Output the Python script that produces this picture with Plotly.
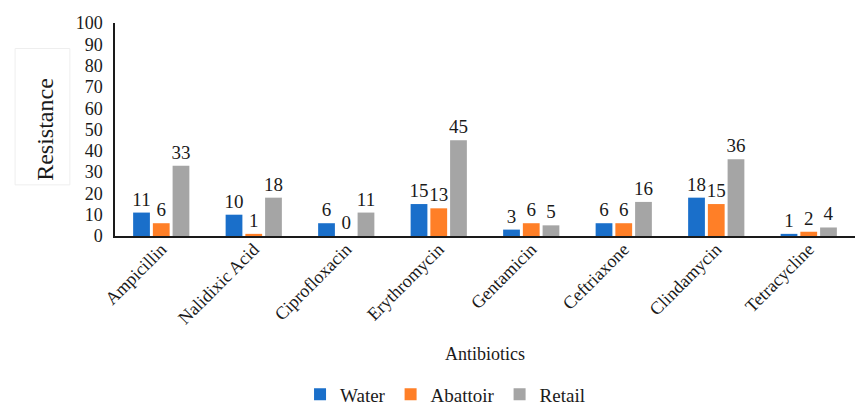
import plotly.graph_objects as go

antibiotics = ["Ampicillin", "Nalidixic Acid", "Ciprofloxacin", "Erythromycin",
               "Gentamicin", "Ceftriaxone", "Clindamycin", "Tetracycline"]
water = [11, 10, 6, 15, 3, 6, 18, 1]
abattoir = [6, 1, 0, 13, 6, 6, 15, 2]
retail = [33, 18, 11, 45, 5, 16, 36, 4]
y_ticks = [0, 10, 20, 30, 40, 50, 60, 70, 80, 90, 100]

FONT = "Liberation Serif, Times New Roman, serif"
INK = "#1a1a1a"

series = [
    ("Water", water, "#1A6FCA"),
    ("Abattoir", abattoir, "#FF7F27"),
    ("Retail", retail, "#A5A5A5"),
]

fig = go.Figure()
for name, vals, color in series:
    fig.add_trace(go.Bar(
        x=antibiotics, y=vals, name=name,
        marker=dict(color=color, line=dict(width=0)),
        text=[str(v) for v in vals], textposition="outside",
        textfont=dict(family=FONT, size=19, color=INK),
        constraintext="none",
        cliponaxis=False,
    ))

fig.update_layout(
    width=865, height=405,
    margin=dict(l=115, r=10, t=23, b=169, autoexpand=False),
    paper_bgcolor="white", plot_bgcolor="white",
    barmode="group", bargap=0.36, bargroupgap=0.15,
    font=dict(family=FONT, size=18, color=INK),
    showlegend=True,
    legend=dict(orientation="h", x=0.446, xanchor="center",
                yref="container", y=0.026, yanchor="middle",
                font=dict(family=FONT, size=19, color=INK),
                itemwidth=30, traceorder="normal"),
    xaxis=dict(
        showline=True, linecolor=INK, linewidth=1.5, showgrid=False,
        tickangle=-45, tickfont=dict(family=FONT, size=18, color=INK),
        ticks="", automargin=False, ticklabelstandoff=-6,
        title=dict(text="Antibiotics", font=dict(family=FONT, size=18, color=INK), standoff=20),
    ),
    yaxis=dict(
        range=[0, 100], tickvals=y_ticks, showline=True, linecolor=INK, linewidth=1.5,
        showgrid=False, zeroline=False, ticks="", automargin=False, ticklabelstandoff=7,
        tickfont=dict(family=FONT, size=18, color=INK),
        title=dict(text="Resistance", font=dict(family=FONT, size=24, color=INK)),
    ),
)

# faint frame around the y-axis title
fig.add_shape(type="rect", xref="paper", yref="paper",
              x0=-0.135, x1=-0.061, y0=0.24, y1=0.88,
              line=dict(color="#EEEEEE", width=1), fillcolor="rgba(0,0,0,0)", layer="below")

fig.write_html("out.html")
